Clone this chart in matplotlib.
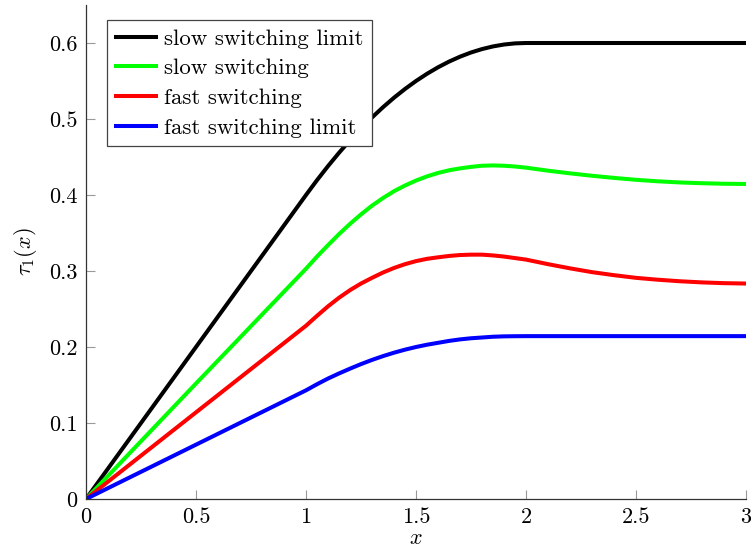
import numpy as np
import matplotlib
matplotlib.use("Agg")
import matplotlib.pyplot as plt

plt.rcParams['font.family'] = 'cmr10'
plt.rcParams['mathtext.fontset'] = 'cm'
plt.rcParams['axes.formatter.use_mathtext'] = True

# values
x = [0, 0.5, 1.0, 1.05, 1.1, 1.15, 1.2, 1.25, 1.3, 1.35, 1.4, 1.45, 1.5, 1.55, 1.6, 1.65, 1.7, 1.75,
     1.8, 1.85, 1.9, 1.95, 2.0, 2.1, 2.2, 2.3, 2.4, 2.5, 2.6, 2.7, 2.8, 2.9, 3.0]
slow_limit = [0, 0.2, 0.4, 0.4195, 0.438, 0.4555, 0.472, 0.4875, 0.502, 0.5155, 0.528, 0.5395, 0.55,
              0.5595, 0.568, 0.5755, 0.582, 0.5875, 0.592, 0.5955, 0.598, 0.5995, 0.6,
              0.6, 0.6, 0.6, 0.6, 0.6, 0.6, 0.6, 0.6, 0.6, 0.6]
slow = [0, 0.152, 0.303, 0.319, 0.334, 0.3485, 0.3620, 0.3745, 0.386, 0.396, 0.405, 0.4125, 0.419,
        0.4245, 0.429, 0.4325, 0.435, 0.437, 0.4385, 0.4389, 0.4385, 0.4375, 0.436,
        0.432, 0.4285, 0.4253, 0.4225, 0.42, 0.418, 0.4165, 0.4155, 0.4148, 0.4145]
fast = [0, 0.114, 0.228, 0.241, 0.2535, 0.2648, 0.2748, 0.2835, 0.291, 0.298, 0.304, 0.309, 0.313,
        0.316, 0.318, 0.3198, 0.321, 0.3215, 0.3215, 0.3205, 0.319, 0.317, 0.315,
        0.309, 0.3035, 0.2985, 0.2945, 0.291, 0.2885, 0.2865, 0.285, 0.284, 0.2835]
fast_limit = [0, 0.0715, 0.143, 0.151, 0.1585, 0.1652, 0.1715, 0.1775, 0.183, 0.188, 0.1925, 0.1965,
              0.2, 0.203, 0.2055, 0.208, 0.21, 0.2115, 0.2125, 0.2135, 0.214, 0.2142, 0.2143,
              0.2143, 0.2143, 0.2143, 0.2143, 0.2143, 0.2143, 0.2143, 0.2143, 0.2143, 0.2143]

series = [(slow_limit, 'black', 'slow switching limit'),
          (slow, '#00ff00', 'slow switching'),
          (fast, 'red', 'fast switching'),
          (fast_limit, 'blue', 'fast switching limit')]

xticks = [0, 0.5, 1, 1.5, 2, 2.5, 3]
xticklabels = ['0', '0.5', '1', '1.5', '2', '2.5', '3']
yticks = [0, 0.1, 0.2, 0.3, 0.4, 0.5, 0.6]
yticklabels = ['0', '0.1', '0.2', '0.3', '0.4', '0.5', '0.6']

fig = plt.figure(figsize=(7.51, 5.52), dpi=100)
ax = fig.add_axes([86/751, 53/552, 660/751, 494/552])

for y, c, lab in series:
    ax.plot(x, y, color=c, lw=2.9, label=lab, solid_joinstyle='round')

ax.set_xlim(0, 3)
ax.set_ylim(0, 0.65)
ax.set_xticks(xticks)
ax.set_xticklabels(xticklabels)
ax.set_yticks(yticks)
ax.set_yticklabels(yticklabels)
ax.tick_params(direction='in', length=6.5, width=0.8, color='#999999',
               labelsize=16, pad=6)
for s in ['top', 'right']:
    ax.spines[s].set_visible(False)
for s in ['left', 'bottom']:
    ax.spines[s].set_color('#333333')
    ax.spines[s].set_linewidth(0.9)

ax.set_xlabel(r'$x$', fontsize=16, labelpad=1)
ax.set_ylabel(r'$\tau_1(x)$', fontsize=16, labelpad=7)

leg = ax.legend(loc='upper left', bbox_to_anchor=(0.0318, 0.9696), borderaxespad=0,
                fontsize=16.5, handlelength=1.75, handletextpad=0.35, borderpad=0.38,
                labelspacing=0.42, fancybox=False, framealpha=1, edgecolor='#444444')
leg.get_frame().set_linewidth(0.9)

fig.savefig('out.png', dpi=100)
